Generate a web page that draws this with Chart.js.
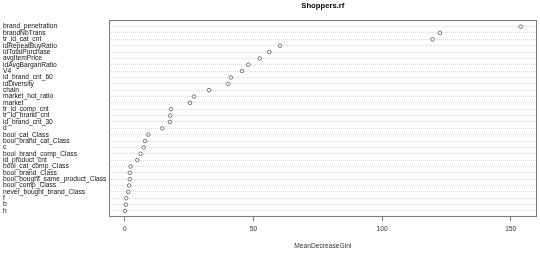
<!DOCTYPE html>
<html>
<head>
<meta charset="utf-8">
<title>Shoppers.rf</title>
<script src="https://cdn.jsdelivr.net/npm/chart.js@4/dist/chart.umd.min.js"></script>
<style>
  html, body { margin: 0; padding: 0; background: #fff; }
  #chart-box { width: 540px; height: 255px; }
</style>
</head>
<body>
<div id="chart-box"><canvas id="my-chart"></canvas></div>
<script>
'use strict';

// *********** DATA ****************

// variables, top to bottom as in the plot
let varNames = [
  'brand_penetration', 'brandNbTrans', 'tr_id_cat_cnt', 'idRepeatBuyRatio',
  'idTotalPurchase', 'avgItemPrice', 'idAvgBarganRatio', 'V4', 'id_brand_cnt_60',
  'idDiversity', 'chain', 'market_hot_ratio', 'market', 'tr_id_comp_cnt',
  'tr_id_brand_cnt', 'id_brand_cnt_30', 'd', 'bool_cat_Class',
  'bool_brand_cat_Class', 'c', 'bool_brand_comp_Class', 'id_product_cnt',
  'bool_cat_comp_Class', 'bool_brand_Class', 'bool_bought_same_product_Class',
  'bool_comp_Class', 'never_bought_brand_Class', 'f', 'b', 'h'
];

let giniValues = [
  153.9, 122.5, 119.6, 60.3,
  56.1, 52.4, 48.0, 45.5, 41.2,
  40.2, 32.7, 26.9, 25.3, 17.9,
  17.6, 17.5, 14.5, 9.1,
  7.8, 7.3, 6.1, 4.8,
  2.2, 1.9, 1.9,
  1.6, 1.3, 0.5, 0.4, 0.0
];

let xTicks = [0, 50, 100, 150];

// ********** CHART ***************

let ctx = document.getElementById('my-chart').getContext('2d');
let fontFam = '"Liberation Sans", Arial, sans-serif';

let points = [];
for (let i = 0; i < giniValues.length; i++) {
  points.push({ x: giniValues[i], y: i + 1 });
}

// R style box around the plot region
let boxPlugin = {
  id: 'plotBox',
  afterDraw(chart) {
    let a = chart.chartArea;
    let c = chart.ctx;
    c.save();
    c.strokeStyle = '#7a7a7a';
    c.lineWidth = 1;
    c.strokeRect(Math.round(a.left) + 0.5, Math.round(a.top) + 0.5,
      Math.round(a.right - a.left) - 1, Math.round(a.bottom - a.top) - 1);
    c.restore();
  }
};

let myChartObj = {
  type: 'scatter',
  data: {
    datasets: [{
      label: 'MeanDecreaseGini',
      data: points,
      pointStyle: 'circle',
      pointRadius: 1.8,
      pointHoverRadius: 1.8,
      pointBorderWidth: 0.8,
      borderColor: '#555',
      backgroundColor: '#fff'
    }]
  },
  options: {
    responsive: true,
    maintainAspectRatio: false,
    animation: false,
    layout: { padding: { left: 3, right: 3.3, top: 0, bottom: 0 } },
    plugins: {
      legend: { display: false },
      tooltip: { enabled: false },
      title: {
        display: true,
        text: 'Shoppers.rf',
        fullSize: false,
        color: '#000',
        font: { family: fontFam, size: 7.7, weight: 'bold' },
        padding: { top: 1, bottom: 10 }
      }
    },
    scales: {
      x: {
        type: 'linear',
        min: -6.2,
        max: 160.1,
        afterBuildTicks: (scale) => {
          scale.ticks = xTicks.map(v => ({ value: v }));
        },
        afterFit: (scale) => { scale.height = 37.7; },
        grid: {
          drawOnChartArea: false,
          drawTicks: true,
          tickLength: 4,
          tickColor: '#808080'
        },
        border: { display: false },
        ticks: {
          color: '#333',
          padding: 4,
          maxRotation: 0,
          font: { family: fontFam, size: 6.7 }
        },
        title: {
          display: true,
          text: 'MeanDecreaseGini',
          color: '#333',
          font: { family: fontFam, size: 6.7 },
          padding: { top: 0, bottom: 5 }
        }
      },
      y: {
        type: 'linear',
        reverse: true,
        min: 0,
        max: varNames.length + 1,
        afterBuildTicks: (scale) => {
          scale.ticks = varNames.map((n, i) => ({ value: i + 1 }));
        },
        afterFit: (scale) => { scale.width = 106; },
        grid: {
          drawTicks: false,
          color: '#dadada',
          lineWidth: 1
        },
        border: { display: false, dash: [1, 1] },
        ticks: {
          autoSkip: false,
          crossAlign: 'far',
          padding: 0,
          color: '#111',
          font: { family: fontFam, size: 6.7, lineHeight: 1 },
          callback: (v) => varNames[v - 1]
        }
      }
    }
  },
  plugins: [boxPlugin]
};

new Chart(ctx, myChartObj);
</script>
</body>
</html>
